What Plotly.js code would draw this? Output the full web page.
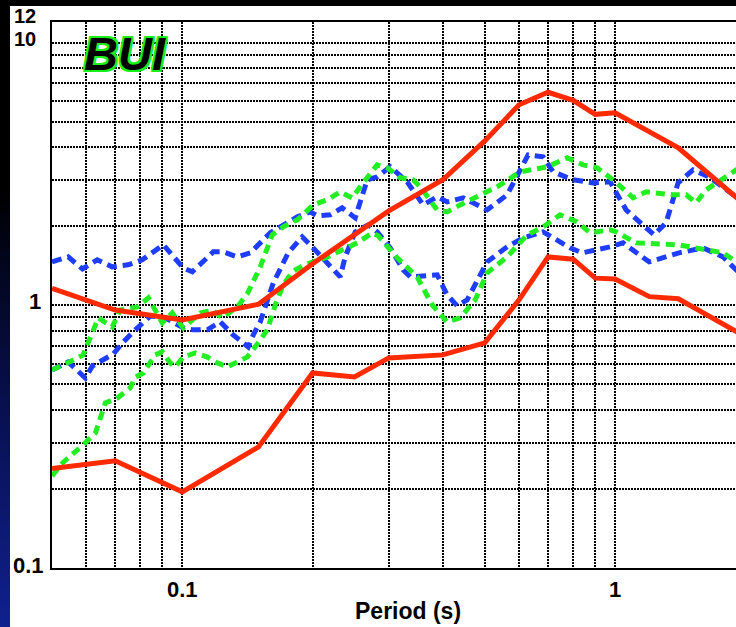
<!DOCTYPE html>
<html>
<head>
<meta charset="utf-8">
<script src="https://cdn.plot.ly/plotly-3.0.1.min.js"></script>
<style>
  html, body { margin: 0; padding: 0; width: 736px; height: 627px; overflow: hidden; }
  body { background: linear-gradient(to bottom, #000 0%, #000 30%, #081050 65%, #10208e 100%); position: relative; }
  #chart { position: absolute; left: 10px; top: 6px; width: 726px; height: 621px; background: #fff; }
</style>
</head>
<body>
<div id="chart"></div>
<script>
// ---- data ----
const redPeriods = [0.05,0.07,0.1,0.15,0.2,0.25,0.3,0.4,0.5,0.6,0.7,0.8,0.9,1.0,1.2,1.4,2.0];
const redUpper   = [1.16,0.96,0.88,1.01,1.44,1.87,2.29,3.01,4.23,5.81,6.48,6.04,5.34,5.41,4.59,3.98,2.41];
const redLower   = [0.239,0.256,0.195,0.289,0.553,0.534,0.631,0.648,0.72,1.05,1.53,1.50,1.27,1.26,1.08,1.06,0.76];

const blueUpperT = [0.05,0.0545,0.0588,0.0636,0.0689,0.075,0.0808,0.0904,0.1005,0.1055,0.1179,0.1244,0.134,0.1436,0.1597,0.1844,0.1975,0.205,0.2197,0.2341,0.2509,0.2675,0.282,0.3023,0.3308,0.3603,0.3881,0.4093,0.4457,0.5063,0.5631,0.5938,0.6296,0.6819,0.7192,0.8,0.8897,0.9739,1.0602,1.2306,1.3114,1.398,1.5139,1.6487,2.0];
const blueUpperV = [1.465,1.530,1.377,1.491,1.402,1.427,1.491,1.700,1.390,1.342,1.599,1.599,1.530,1.585,1.889,2.174,2.271,2.193,2.212,2.352,2.154,3.007,3.087,3.370,2.954,2.414,2.591,2.479,2.568,2.311,2.636,3.087,3.744,3.679,3.225,3.007,2.928,2.954,2.311,1.856,2.062,2.928,3.282,3.087,2.436];

const blueLowerT = [0.05,0.0545,0.0597,0.062,0.0693,0.0731,0.0779,0.0844,0.0914,0.1005,0.106,0.1142,0.1224,0.1311,0.142,0.1459,0.1514,0.1623,0.1757,0.1893,0.1996,0.2162,0.2317,0.2379,0.2509,0.2689,0.282,0.3023,0.3239,0.3362,0.368,0.3881,0.4093,0.4317,0.4552,0.48,0.5063,0.5631,0.6132,0.6819,0.7345,0.787,0.8391,0.9088,0.9739,1.0435,1.1982,1.4057,1.5966,1.7758,2.0];
const blueLowerV = [0.568,0.609,0.529,0.588,0.653,0.726,0.807,0.912,0.896,0.821,0.807,0.807,0.865,0.772,0.695,0.772,0.865,1.218,1.585,1.824,1.671,1.452,1.284,1.530,1.905,2.026,1.905,1.656,1.365,1.284,1.307,1.307,1.096,0.996,1.049,1.229,1.465,1.671,1.808,1.905,1.777,1.656,1.585,1.627,1.671,1.730,1.465,1.585,1.656,1.530,1.262];

const greenUpperT = [0.05,0.0531,0.059,0.064,0.0689,0.0719,0.0787,0.0835,0.0899,0.0948,0.1005,0.11,0.1173,0.1237,0.134,0.1413,0.1514,0.1614,0.1711,0.1844,0.2007,0.2162,0.2317,0.2469,0.2618,0.282,0.2975,0.3188,0.3416,0.3546,0.3881,0.4093,0.4385,0.48,0.5339,0.6034,0.6363,0.6966,0.7746,0.8436,0.9088,0.9895,1.1005,1.1792,1.3614,1.4588,1.5385,1.6226,2.0];
const greenUpperV = [0.568,0.593,0.648,0.896,0.828,0.961,0.987,1.068,0.858,0.936,0.821,0.936,0.961,0.896,0.987,1.106,1.402,1.856,1.991,2.117,2.414,2.523,2.706,2.568,2.928,3.429,3.341,3.060,3.007,2.828,2.311,2.271,2.414,2.591,2.828,3.225,3.282,3.370,3.647,3.429,3.341,3.007,2.568,2.706,2.636,2.636,2.458,2.754,3.459];

const greenLowerT = [0.05,0.0531,0.059,0.063,0.0664,0.0708,0.0758,0.0779,0.0813,0.0866,0.0899,0.0938,0.0963,0.1005,0.1072,0.1142,0.1205,0.127,0.1326,0.1413,0.1498,0.1572,0.164,0.1711,0.1795,0.1893,0.2007,0.2139,0.2317,0.2536,0.2747,0.2836,0.3137,0.3488,0.378,0.4093,0.4385,0.475,0.5063,0.5631,0.6263,0.6819,0.7464,0.817,0.8757,0.9739,1.0053,1.1182,1.4057,1.5966,1.7758,2.0];
const greenLowerV = [0.224,0.253,0.294,0.327,0.425,0.444,0.485,0.534,0.553,0.648,0.665,0.604,0.583,0.636,0.659,0.636,0.604,0.583,0.604,0.636,0.720,0.807,1.004,1.197,1.342,1.414,1.465,1.517,1.613,1.730,1.889,1.840,1.517,1.284,1.004,0.865,0.896,1.049,1.330,1.530,1.856,1.991,2.212,2.080,1.889,1.940,1.905,1.730,1.700,1.627,1.585,1.390];

const xGridVals = [0.06,0.07,0.08,0.09,0.1,0.2,0.3,0.4,0.5,0.6,0.7,0.8,0.9,1,2];
const xGridText = ['','','','','0.1','','','','','','','','','1',''];
const yGridVals = [0.2,0.3,0.4,0.5,0.6,0.7,0.8,0.9,1,2,3,4,5,6,7,8,9,10];
const yLabelVals = [0.1, 1, 10, 12];
const yLabelText = ['0.1', '1', '10', '12'];

const stationLabel = 'BUI';
const xTitle = 'Period (s)';

// ---- styles ----
const RED = '#ff2a00', BLUE = '#1f3dff', GREEN = '#22ee22';
const FONT = 'Liberation Sans, Arial, Helvetica, sans-serif';

const traces = [
  {x: blueUpperT, y: blueUpperV, mode: 'lines', line: {color: BLUE, width: 5, dash: '10px,6px'}},
  {x: blueLowerT, y: blueLowerV, mode: 'lines', line: {color: BLUE, width: 5, dash: '10px,6px'}},
  {x: greenUpperT, y: greenUpperV, mode: 'lines', line: {color: GREEN, width: 5, dash: '9px,6px'}},
  {x: greenLowerT, y: greenLowerV, mode: 'lines', line: {color: GREEN, width: 5, dash: '9px,6px'}},
  {x: redPeriods, y: redUpper, mode: 'lines', line: {color: RED, width: 5}},
  {x: redPeriods, y: redLower, mode: 'lines', line: {color: RED, width: 5}}
];

const axisCommon = {
  type: 'log',
  showgrid: true, gridcolor: '#000', gridwidth: 2, griddash: '2px,1px',
  showline: true, linecolor: '#000', linewidth: 2,
  ticks: '', zeroline: false,
  tickmode: 'array',
  tickfont: {family: FONT, size: 22, color: '#000', weight: 'bold'}
};

// y labels as annotations at their data values, with the small pixel offsets seen in the reference
const yLabelX = [-0.0095, -0.013, -0.0205, -0.0205];
const yLabelShift = [3, 3.5, 4, 6.5];
const yLabelSize = [22, 22, 20, 20];
const yAnn = yLabelVals.map((v, i) => ({
  text: yLabelText[i], xref: 'paper', yref: 'y', x: yLabelX[i],
  y: Math.log10(v), yshift: yLabelShift[i],
  xanchor: 'right', yanchor: 'middle', showarrow: false,
  font: {family: FONT, size: yLabelSize[i], color: '#000', weight: 'bold'}
}));

const g = '#19f019';
const layout = {
  width: 726, height: 621,
  margin: {l: 42, r: 0, t: 16, b: 59},
  paper_bgcolor: '#fff', plot_bgcolor: '#fff',
  showlegend: false,
  xaxis: Object.assign({}, axisCommon, {
    range: [Math.log10(0.05), 0.2794],
    tickvals: xGridVals, ticktext: xGridText,
    mirror: true, ticklabelstandoff: 1
  }),
  yaxis: Object.assign({}, axisCommon, {
    range: [-1, Math.log10(12)],
    tickvals: yGridVals, showticklabels: false
  }),
  annotations: yAnn.concat([
    {text: stationLabel, xref: 'paper', yref: 'paper', x: 0.1067, y: 0.9414,
     xanchor: 'center', yanchor: 'middle', showarrow: false,
     font: {family: FONT, size: 47, color: '#000', weight: 'bold', style: 'italic',
            shadow: `2px 2px 0 ${g}, -2px -2px 0 ${g}, 2px -2px 0 ${g}, -2px 2px 0 ${g}, 0 2px 0 ${g}, 0 -2px 0 ${g}, 2px 0 0 ${g}, -2px 0 0 ${g}`}},
    {text: xTitle, xref: 'paper', yref: 'paper', x: 0.52, y: -0.0788,
     xanchor: 'center', yanchor: 'middle', showarrow: false,
     font: {family: FONT, size: 23, color: '#000', weight: 'bold'}}
  ])
};

Plotly.newPlot('chart', traces, layout, {staticPlot: true, displayModeBar: false});
</script>
</body>
</html>
